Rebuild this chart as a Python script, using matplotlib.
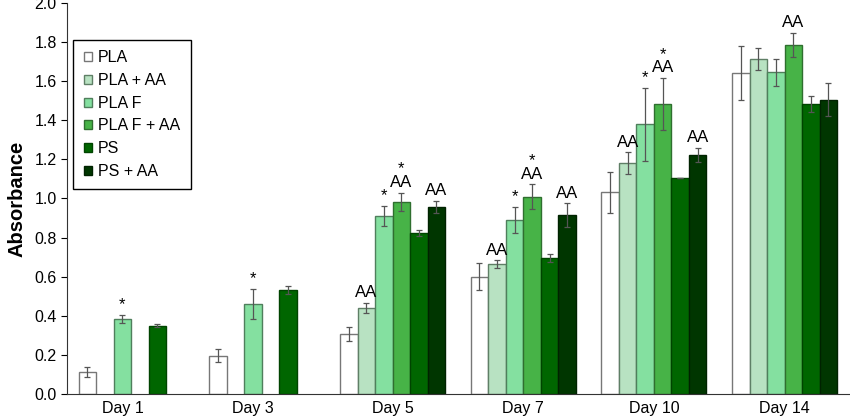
import numpy as np
import matplotlib
matplotlib.use("Agg")
import matplotlib.pyplot as plt

plt.rcParams['font.family'] = ['Liberation Sans', 'DejaVu Sans']

days = ["Day 1", "Day 3", "Day 5", "Day 7", "Day 10", "Day 14"]
series = ["PLA", "PLA + AA", "PLA F", "PLA F + AA", "PS", "PS + AA"]

# mean absorbance per series, one value per day (None = not measured)
pla      = [0.113, 0.196, 0.307, 0.600, 1.032, 1.642]
pla_aa   = [None,  None,  0.441, 0.663, 1.180, 1.715]
plaf     = [0.384, 0.460, 0.909, 0.890, 1.379, 1.645]
plaf_aa  = [None,  None,  0.984, 1.009, 1.482, 1.785]
ps       = [0.350, 0.532, 0.822, 0.694, 1.107, 1.482]
ps_aa    = [None,  None,  0.958, 0.915, 1.224, 1.504]

pla_err     = [0.025, 0.033, 0.037, 0.070, 0.104, 0.136]
pla_aa_err  = [None,  None,  0.026, 0.020, 0.056, 0.056]
plaf_err    = [0.020, 0.077, 0.052, 0.065, 0.188, 0.070]
plaf_aa_err = [None,  None,  0.046, 0.063, 0.133, 0.060]
ps_err      = [0.010, 0.020, 0.015, 0.020, 0.000, 0.040]
ps_aa_err   = [None,  None,  0.030, 0.060, 0.036, 0.084]

# significance marks: (series index, day index, text)
marks = [
    (2, 0, "*"), (2, 1, "*"),
    (1, 2, "AA"), (2, 2, "*"), (3, 2, "*\nAA"), (5, 2, "AA"),
    (1, 3, "AA"), (2, 3, "*"), (3, 3, "*\nAA"), (5, 3, "AA"),
    (1, 4, "AA"), (2, 4, "*"), (3, 4, "*\nAA"), (5, 4, "AA"),
    (3, 5, "AA"),
]

means = [pla, pla_aa, plaf, plaf_aa, ps, ps_aa]
errs = [pla_err, pla_aa_err, plaf_err, plaf_aa_err, ps_err, ps_aa_err]
colors = ["#ffffff", "#b8e2c2", "#84e0a0", "#47b347", "#006600", "#003600"]
edges = ["#777777", "#5f7f66", "#4f7f5c", "#2f6f2f", "#004400", "#002200"]

fig = plt.figure(figsize=(8.5, 4.2), dpi=100)
ax = fig.add_axes([0.079, 0.062, 0.921, 0.931])

w = 0.134
x = np.arange(len(days))
for i in range(len(series)):
    xs, ys, es = [], [], []
    for d in range(len(days)):
        if means[i][d] is None:
            continue
        xs.append(x[d] + (i - 2.5) * w)
        ys.append(means[i][d])
        es.append(errs[i][d])
    ax.bar(xs, ys, width=w, color=colors[i], edgecolor=edges[i],
           linewidth=1.0, label=series[i], zorder=2)
    ax.errorbar(xs, ys, yerr=es, fmt='none', ecolor='#555555',
                elinewidth=0.9, capsize=2.5, capthick=0.9, zorder=3)

for i, d, txt in marks:
    top = means[i][d] + errs[i][d]
    ax.annotate(txt, (x[d] + (i - 2.5) * w, top), xytext=(0, 2),
                textcoords='offset points', ha='center', va='bottom',
                fontsize=12, linespacing=0.85)

# day labels sit under the centre of the bars actually drawn
tick_pos = [x[0] - 0.5 * w, x[1] - 0.5 * w] + list(x[2:])
ax.set_xticks(tick_pos)
ax.set_xticklabels(days, fontsize=11.5)
ax.tick_params(axis='x', length=0, pad=5)

ax.set_ylim(0, 2.0)
ax.set_yticks(np.arange(0, 2.01, 0.2))
ax.set_yticklabels([f"{v:.1f}" for v in np.arange(0, 2.01, 0.2)], fontsize=11.5)
ax.tick_params(axis='y', direction='out', length=4)
ax.set_xlim(-0.49, 5.5)
ax.set_ylabel("Absorbance", fontsize=14.5, fontweight='bold', labelpad=6)

ax.spines['top'].set_visible(False)
ax.spines['right'].set_visible(False)
ax.spines['left'].set_color('#333333')
ax.spines['bottom'].set_color('#333333')

leg = ax.legend(loc='upper left', bbox_to_anchor=(0.008, 0.905), fontsize=11.5,
                fancybox=False, edgecolor='black', framealpha=1,
                borderaxespad=0,
                handlelength=0.5, handleheight=0.5, handletextpad=0.4,
                labelspacing=0.48, borderpad=0.65)
leg.get_frame().set_linewidth(1.0)

fig.savefig("out.png", dpi=100)
